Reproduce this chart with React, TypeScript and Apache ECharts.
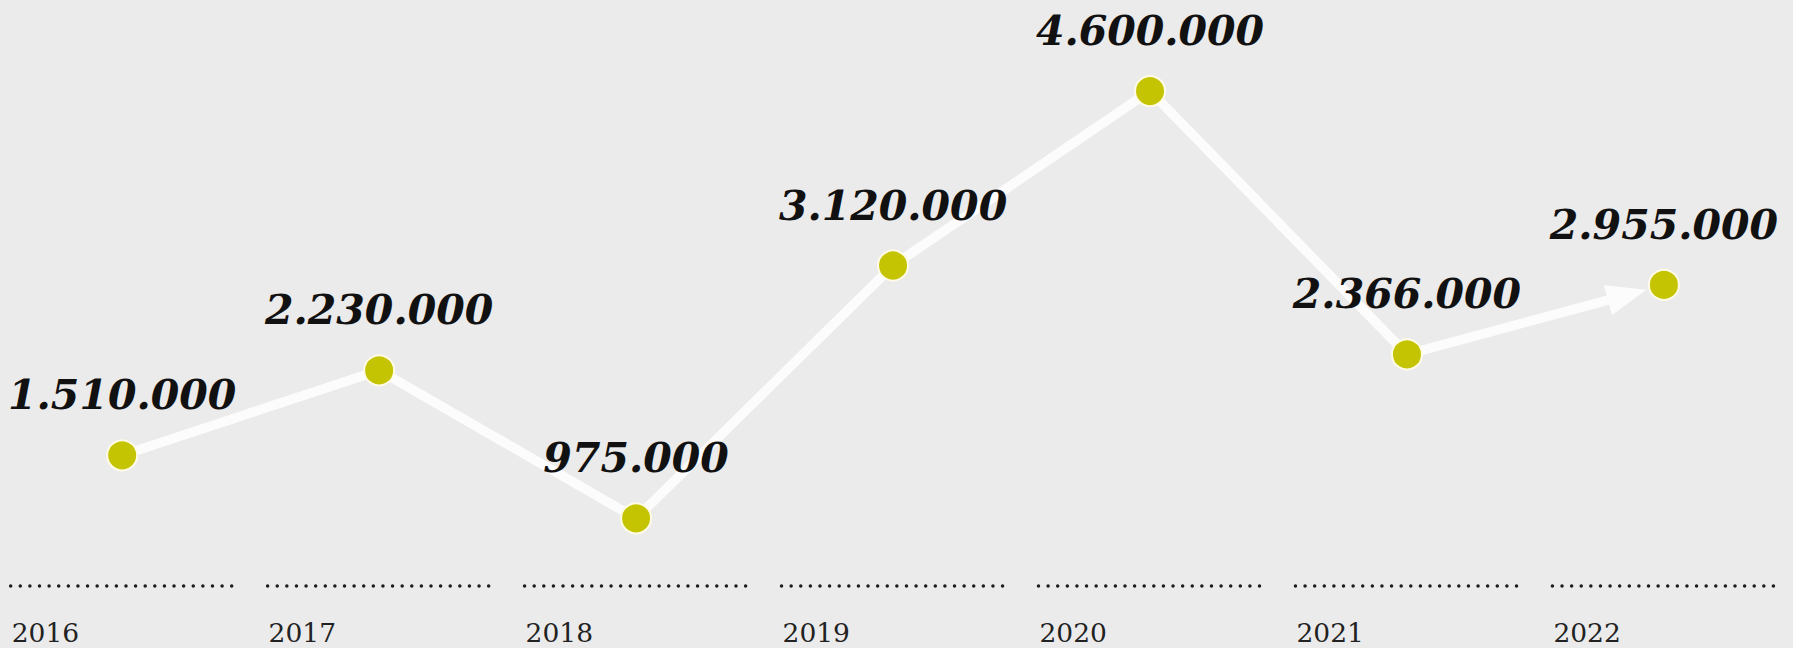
import React, { useEffect, useRef } from "react";
import * as echarts from "echarts";

const years = ["2016", "2017", "2018", "2019", "2020", "2021", "2022"];
const visitors = [1510000, 2230000, 975000, 3120000, 4600000, 2366000, 2955000];
// the last step (2021 -> 2022) is drawn as an arrow
const arrowFromIndex = 5;

const BG = "#ebebeb";
const POINT = "#c4c402";

function fmt(v: number): string {
  return String(v).replace(/\B(?=(\d{3})+(?!\d))/g, ".");
}

export default function App() {
  const ref = useRef<HTMLDivElement>(null);

  useEffect(() => {
    if (!ref.current) return;
    const chart = echarts.init(ref.current, undefined, { renderer: "svg" });

    const lineData = visitors.map((v, i) => (i <= arrowFromIndex ? v : "-"));
    const arrowData = [
      [arrowFromIndex, visitors[arrowFromIndex], arrowFromIndex + 1, visitors[arrowFromIndex + 1]],
    ];

    chart.setOption({
      animation: false,
      backgroundColor: BG,
      grid: { left: 0.7, right: 0.6, top: 43.9, bottom: 14.7, containLabel: false },
      xAxis: {
        type: "category",
        data: years,
        boundaryGap: true,
        show: false,
      },
      yAxis: {
        type: "value",
        min: 0,
        max: 5000000,
        show: false,
      },
      series: [
        {
          type: "custom",
          name: "axis",
          coordinateSystem: "cartesian2d",
          data: years.map((_, i) => [i, 0]),
          silent: true,
          z: 1,
          renderItem: (params: any, api: any) => {
            const idx = api.value(0);
            const c = api.coord([idx, 0]);
            const bw = api.size([1, 0])[0];
            const cs = params.coordSys;
            const bottom = cs.y + cs.height;
            const half = bw * 0.434;
            return {
              type: "group",
              children: [
                {
                  type: "line",
                  shape: { x1: c[0] - half, y1: bottom - 47.3, x2: c[0] + half, y2: bottom - 47.3 },
                  style: {
                    stroke: "#1c1c1c",
                    lineWidth: 3.5,
                    lineDash: [0.01, 9.6],
                    lineCap: "round",
                  },
                },
                {
                  type: "text",
                  style: {
                    text: years[idx],
                    x: c[0] - half + 1,
                    y: bottom - 0.5,
                    fill: "#222222",
                    fontSize: 26.5,
                    lineHeight: 26,
                    fontFamily: "DejaVu Serif",
                    align: "left",
                    verticalAlign: "middle",
                  },
                },
              ],
            };
          },
        },
        {
          type: "line",
          name: "line",
          data: lineData,
          showSymbol: false,
          symbol: "none",
          silent: true,
          z: 2,
          lineStyle: { color: "#fcfcfc", width: 9.5, join: "round", cap: "round" },
        },
        {
          type: "custom",
          name: "arrow",
          coordinateSystem: "cartesian2d",
          data: arrowData,
          silent: true,
          z: 2,
          renderItem: (_params: any, api: any) => {
            const s = api.coord([api.value(0), api.value(1)]);
            const e = api.coord([api.value(2), api.value(3)]);
            const dx = e[0] - s[0];
            const dy = e[1] - s[1];
            const len = Math.sqrt(dx * dx + dy * dy);
            const ux = dx / len;
            const uy = dy / len;
            const nx = -uy;
            const ny = ux;
            const tip = [e[0] - ux * 18, e[1] - uy * 18];
            const base = [tip[0] - ux * 40, tip[1] - uy * 40];
            const hw = 15.5;
            return {
              type: "group",
              children: [
                {
                  type: "line",
                  shape: { x1: s[0], y1: s[1], x2: base[0] + ux * 2, y2: base[1] + uy * 2 },
                  style: { stroke: "#fcfcfc", lineWidth: 9.5, lineCap: "round" },
                },
                {
                  type: "polygon",
                  shape: {
                    points: [
                      tip,
                      [base[0] + nx * hw, base[1] + ny * hw],
                      [base[0] - nx * hw, base[1] - ny * hw],
                    ],
                  },
                  style: { fill: "#fcfcfc" },
                },
              ],
            };
          },
        },
        {
          type: "scatter",
          name: "points",
          data: visitors,
          symbol: "circle",
          symbolSize: 30,
          silent: true,
          z: 3,
          itemStyle: { color: POINT, borderColor: "#fffbe6", borderWidth: 2, opacity: 1 },
          label: {
            show: true,
            position: "top",
            distance: 23,
            formatter: (p: any) => fmt(p.value),
            fontFamily: "DejaVu Serif",
            fontWeight: "bold",
            fontStyle: "italic",
            fontSize: 41,
            lineHeight: 42,
            color: "#111111",
          },
        },
      ],
    });

    return () => chart.dispose();
  }, []);

  return (
    <div
      ref={ref}
      style={{ position: "fixed", left: -7, top: 0, width: 1800, height: 648 }}
    />
  );
}
